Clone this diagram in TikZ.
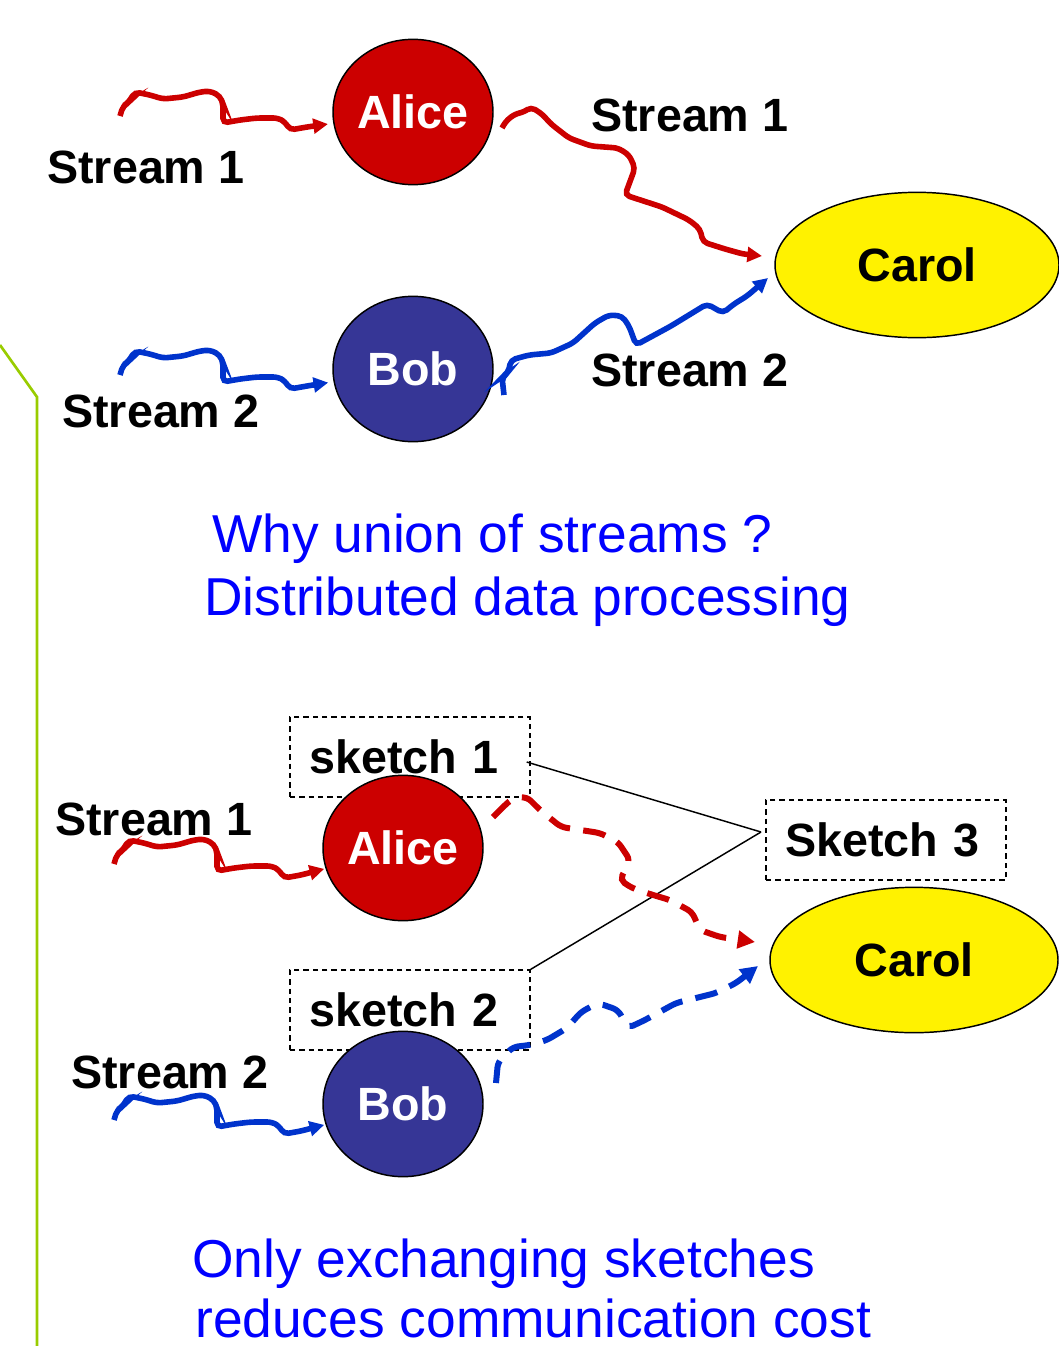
\documentclass[tikz,border=0pt]{standalone}
\usepackage{fontspec}
\setmainfont{Liberation Sans}
\usetikzlibrary{shapes.geometric,arrows.meta}
\definecolor{aliceRed}{HTML}{CC0000}
\definecolor{bobBlue}{HTML}{363696}
\definecolor{lineBlue}{HTML}{0033CC}
\definecolor{textBlue}{HTML}{0000FF}
\definecolor{barGreen}{HTML}{99CC00}
\newcommand\squigpts{-- +(3,-10) -- +(8,-13) -- +(15,-24) -- +(30,-21) -- +(43,-17) -- +(63,-19) -- +(80,-24) -- +(90,-25) -- +(100,-20) -- +(103,-12) -- +(103,7) -- +(120,4) -- +(137,2) -- +(158,2) -- +(165,6) -- +(170,14) -- +(187,11)}
\begin{document}
\begin{tikzpicture}[x=0.75pt,y=-0.75pt,
  person/.style={ellipse,draw=black,line width=1.1pt,minimum width=120pt,minimum height=109pt,inner sep=0pt,font=\bfseries\fontsize{35}{40}\selectfont},
  lbl/.style={anchor=base west,inner sep=0pt,font=\bfseries\fontsize{35}{40}\selectfont},
  skbox/.style={draw,dash pattern=on 4pt off 3pt,line width=1pt,text width=151pt,align=left,inner xsep=14.5pt,minimum height=60pt,inner ysep=0pt,font=\bfseries\fontsize{35}{40}\selectfont},
  note/.style={anchor=base west,inner sep=0pt,text=textBlue,font=\fontsize{40}{48}\selectfont},
  flow/.style={line width=4.2pt,rounded corners=3.5pt,-{Triangle[length=11pt,width=11pt]}},
  dflow/.style={line width=4.5pt,rounded corners=4pt,dash pattern=on 17pt off 10pt,-{Triangle[length=13pt,width=13pt]}},
  thin/.style={line width=1.1pt,black},
]
\useasboundingbox (0,0) rectangle (1059,1346);

% left green bar
\coordinate (g0) at (0,345);
\coordinate (g1) at (37,397);
\coordinate (g2) at (37,1346);
\draw[barGreen,line width=2pt] (g0) -- (g1) -- (g2);

% ---------- top part ----------
\node[person,fill=aliceRed,text=white] (A1) at (413,112) {Alice};
\node[person,fill=bobBlue,text=white] (B1) at (413,369) {Bob};
\node[person,fill=yellow,minimum width=213pt] (C1) at (917,265) {Carol};

\node[lbl] (l1) at (47,183) {Stream 1};
\node[lbl] (l2) at (62,427) {Stream 2};
\node[lbl] (l3) at (591,131) {Stream 1};
\node[lbl] (l4) at (591,386) {Stream 2};

\coordinate (r1s) at (120,116);
\coordinate (b1s) at (120,375);
\draw[flow,aliceRed,shorten >=4pt] (r1s) \squigpts -- (A1);
\draw[flow,lineBlue,shorten >=4pt] (b1s) \squigpts -- (B1);

\coordinate (a1o) at (502,128);
\coordinate (c1r) at (762,256);
\draw[flow,aliceRed] (a1o) -- (506,121) -- (515,114) -- (524,112) -- (531,107) -- (542,114) -- (551,124) -- (569,138) -- (591,146) -- (618,148) -- (629,155) -- (635,168) -- (625,195) -- (662,207) -- (689,220) -- (700,229) -- (703,242) -- (725,249) -- (743,254) -- (c1r);

\coordinate (b1o) at (504,395);
\coordinate (c1b) at (768,278);
\draw[flow,lineBlue] (b1o) -- (502,377) -- (508,373) -- (511,360) -- (529,355) -- (551,353) -- (573,343) -- (595,323) -- (609,315) -- (622,316) -- (629,326) -- (636,345) -- (671,326) -- (707,304) -- (723,313) -- (734,304) -- (747,296) -- (c1b);

% middle text
\node[note] (t1) at (212,552) {Why union of streams ?};
\node[note] (t2) at (204,615) {Distributed data processing};

% ---------- bottom part ----------
\node[skbox] (S1) at (410,757) {sketch 1};
\node[skbox] (S2) at (410,1010) {sketch 2};
\node[skbox] (S3) at (886,840) {Sketch 3};

\node[person,fill=aliceRed,text=white] (A2) at (403,848) {Alice};
\node[person,fill=bobBlue,text=white] (B2) at (403,1104) {Bob};
\node[person,fill=yellow,minimum width=216pt] (C2) at (914,960) {Carol};

\node[lbl] (l5) at (55,835) {Stream 1};
\node[lbl] (l6) at (71,1088) {Stream 2};

\coordinate (r2s) at (114,864);
\coordinate (b2s) at (114,1120);
\draw[flow,aliceRed,shorten >=1pt] (r2s) \squigpts -- (A2);
\draw[flow,lineBlue,shorten >=1pt] (b2s) \squigpts -- (B2);

\coordinate (s3in) at (761,832);
\draw[thin] (S1.east) ++(-4,5) -- (s3in);
\draw[thin] (S2.north east) -- (s3in);

\coordinate (a2o) at (493,817);
\coordinate (c2r) at (755,942);
\draw[dflow,aliceRed] (a2o) -- (503,807) -- (513,798) -- (527,797) -- (540,810) -- (561,827) -- (600,833) -- (618,842) -- (630,860) -- (620,880) -- (632,888) -- (653,895) -- (670,900) -- (692,912) -- (700,930) -- (720,937) -- (c2r);

\coordinate (b2o) at (496,1083);
\coordinate (c2b) at (758,966);
\draw[dflow,lineBlue] (b2o) -- (498,1062) -- (513,1047) -- (530,1045) -- (547,1040) -- (567,1028) -- (581,1012) -- (598,1003) -- (618,1010) -- (628,1028) -- (645,1020) -- (676,1003) -- (716,993) -- (736,983) -- (c2b);

\node[note] (t3) at (192,1277) {Only exchanging sketches};
\node[note] (t4) at (195,1337) {reduces communication cost};
\end{tikzpicture}
\end{document}
